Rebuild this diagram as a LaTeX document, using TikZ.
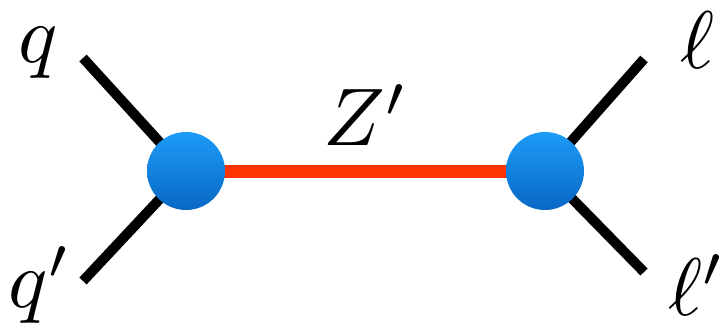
\documentclass[tikz,border=0pt]{standalone}
\usepackage{amsmath}
\usepackage{xcolor}
\usepackage{tikz}
\usetikzlibrary{positioning,calc}
\definecolor{cblobtop}{RGB}{28,155,247}
\definecolor{cblobbot}{RGB}{8,104,196}
\definecolor{cprop}{RGB}{255,51,0}

\begin{document}
\begin{tikzpicture}[
  x=1bp, y=-1bp,
  leg/.style={line width=10bp, black},
  prop/.style={line width=13bp, cprop},
  blob/.style={circle, minimum size=78bp, inner sep=0pt,
               top color=cblobtop, bottom color=cblobbot},
  lbl/.style={scale=8.2, inner sep=0pt},
]
\useasboundingbox (0,0) rectangle (723,331);

% --- vertices and external ends ---
\coordinate (vl) at (186,171);
\coordinate (vr) at (545,171);
\coordinate (ql) at (83,58);
\coordinate (qpl) at (83,281);
\coordinate (lr) at (644,59);
\coordinate (lpr) at (644,272);

% --- legs ---
\draw[leg] (ql) -- (vl);
\draw[leg] (qpl) -- (vl);
\draw[leg] (lr) -- (vr);
\draw[leg] (lpr) -- (vr);

% --- propagator ---
\draw[prop] (vl) -- (vr);

% --- blobs ---
\node[blob] (bl) at (vl) {};
\node[blob] (br) at (vr) {};

% --- labels ---
\node[lbl] (tq) at (38,53) {$q$};
\node[lbl] (tqp) at (40,285) {$q'$};
\node[lbl] (tl) at (698,40) {$\ell$};
\node[lbl] (tlp) at (697,285) {$\ell'$};
\node[lbl] (tz) at (366,115) {$Z'$};
\end{tikzpicture}
\end{document}
